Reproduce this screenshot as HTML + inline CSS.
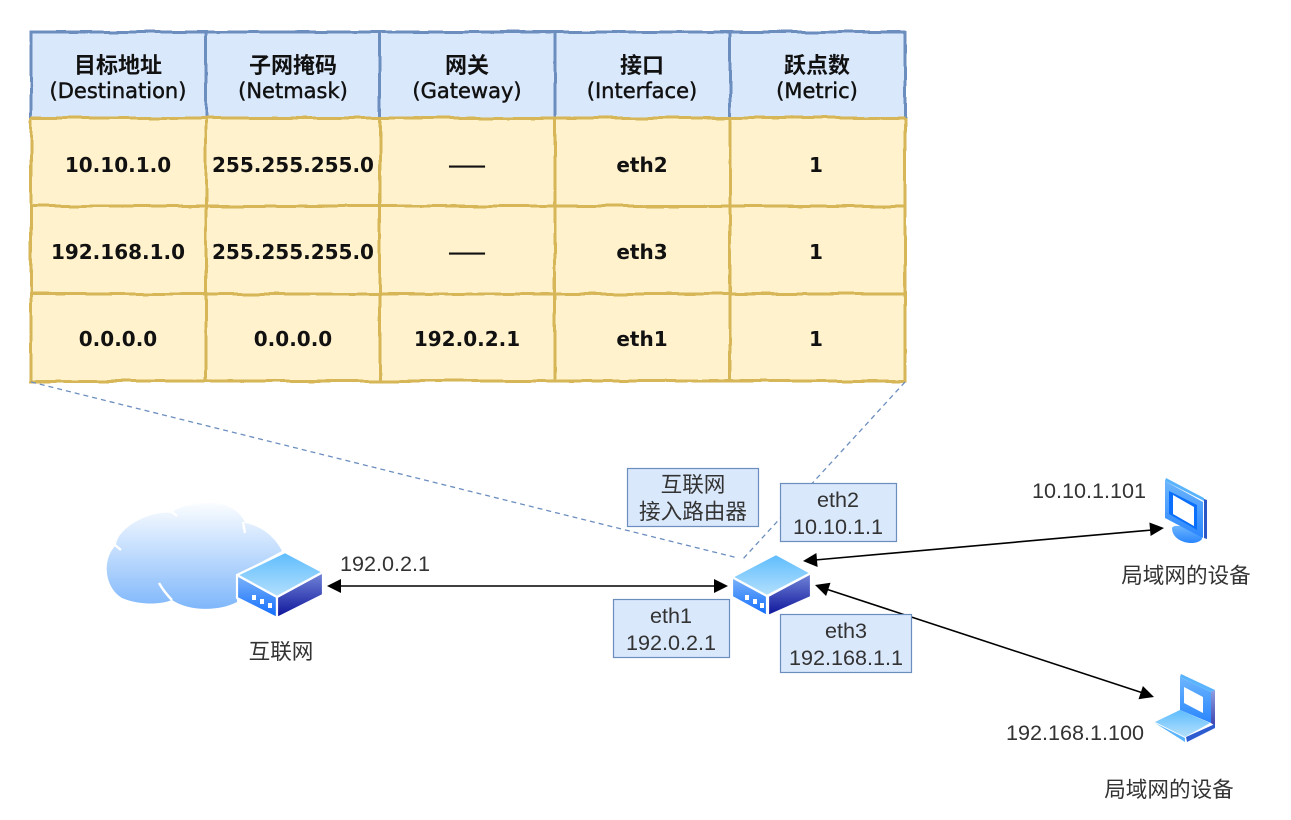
<!DOCTYPE html>
<html><head><meta charset="utf-8"><style>
html,body{margin:0;padding:0;background:#fff}
svg{display:block}
.t{font-family:"DejaVu Sans","Noto Sans CJK SC",sans-serif;font-size:20px;font-weight:bold;text-anchor:middle;fill:#111}
.h{font-family:"DejaVu Sans",sans-serif;font-size:21px;text-anchor:middle;fill:#111;stroke:#111;stroke-width:.45px}
.z{font-family:"Noto Sans CJK SC",sans-serif;font-size:22px;font-weight:700;text-anchor:middle;fill:#111}
.c{font-family:"Noto Sans CJK SC",sans-serif;font-size:22.5px;font-weight:700;text-anchor:middle;fill:#111}
.l{font-family:"Liberation Sans","Noto Sans CJK SC",sans-serif;font-size:21.6px;text-anchor:middle;fill:#333}
.b{fill:#dae8fc;stroke:#6c8ebf;stroke-width:1.2}
</style></head><body>
<svg width="1291" height="820" viewBox="0 0 1291 820" xmlns="http://www.w3.org/2000/svg">
<defs>
<filter id="w" x="0" y="0" width="1291" height="820" filterUnits="userSpaceOnUse" primitiveUnits="userSpaceOnUse"><feTurbulence type="fractalNoise" baseFrequency="0.03" numOctaves="2" seed="4"/><feDisplacementMap in="SourceGraphic" scale="4" xChannelSelector="R" yChannelSelector="G"/></filter>
<linearGradient id="cl" x1="0" y1="0" x2="0" y2="1"><stop offset="0" stop-color="#fbfdff"/><stop offset="1" stop-color="#7fb7fb"/></linearGradient>
<linearGradient id="top" x1="0" y1="0" x2="0" y2="1"><stop offset="0" stop-color="#5dbcfd"/><stop offset="1" stop-color="#b5e0fd"/></linearGradient>
<linearGradient id="fr" x1="0" y1="0" x2="0" y2="1"><stop offset="0" stop-color="#7db4f8"/><stop offset="1" stop-color="#0f6cff"/></linearGradient>
<linearGradient id="si" x1="0" y1="0" x2="0" y2="1"><stop offset="0" stop-color="#7488da"/><stop offset="1" stop-color="#0c1299"/></linearGradient>
<linearGradient id="sc" x1="0" y1="0" x2="0" y2="1"><stop offset="0" stop-color="#6cb5fd"/><stop offset="1" stop-color="#2a86ff"/></linearGradient>
</defs>
<rect width="1291" height="820" fill="#fff"/>

<!-- table fills -->
<rect x="31" y="32" width="874" height="86" fill="#dae8fc"/>
<rect x="31" y="118" width="874" height="263" fill="#fff2cc"/>
<!-- table lines -->
<g filter="url(#w)" fill="none" stroke-width="3">
<path stroke="#d6b656" d="M31 118V381H905V118M31 206H905M31 294H905M206 118V381M380 118V381M555 118V381M730 118V381"/>
<path stroke="#6c8ebf" d="M31 118V32H905V118M206 32V118M380 32V118M555 32V118M730 32V118"/>
<path stroke="#d6b656" d="M31 118H905"/>
</g>

<text class="z" x="118" y="73">目标地址</text><text class="h" x="118" y="98">(Destination)</text>
<text class="z" x="293" y="73">子网掩码</text><text class="h" x="293" y="98">(Netmask)</text>
<text class="z" x="467" y="73">网关</text><text class="h" x="467" y="98">(Gateway)</text>
<text class="z" x="642" y="73">接口</text><text class="h" x="642" y="98">(Interface)</text>
<text class="z" x="817" y="73">跃点数</text><text class="h" x="817" y="98">(Metric)</text>

<text class="t" x="118" y="172">10.10.1.0</text><text class="t" x="293" y="172">255.255.255.0</text><text class="c" x="467" y="173">——</text><text class="t" x="642" y="172">eth2</text><text class="t" x="816" y="172">1</text>
<text class="t" x="118" y="259">192.168.1.0</text><text class="t" x="293" y="259">255.255.255.0</text><text class="c" x="467" y="260">——</text><text class="t" x="642" y="259">eth3</text><text class="t" x="816" y="259">1</text>
<text class="t" x="118" y="346">0.0.0.0</text><text class="t" x="293" y="346">0.0.0.0</text><text class="t" x="467" y="346">192.0.2.1</text><text class="t" x="642" y="346">eth1</text><text class="t" x="816" y="346">1</text>

<!-- dashed -->
<g fill="none" stroke="#6c8ebf" stroke-width="1.3" stroke-dasharray="5 4">
<path d="M31 382L738 558"/>
<path d="M905 382L742 560"/>
</g>

<!-- cloud -->
<path fill="url(#cl)" d="M116 545C117 528 150 510 172 513C177 506 205 500 222 504C235 508 243 516 245 523C262 526 275 537 282 551L237 575V602C220 611 190 612 172 600C160 605 138 605 122 598C105 588 101 560 116 545Z"/>
<path fill="none" stroke="#fff" stroke-width="2.4" d="M172 512L177 516M243 522L245 533M115 545L121 550M159 583C163 590 167 595 172 600"/>

<!-- router 1 -->
<g stroke="#fff" stroke-width="2.2" stroke-linejoin="round">
<path fill="url(#fr)" d="M237 575L277 597V618L237 598Z"/>
<path fill="url(#si)" d="M323 572V595L277 618V597Z"/>
<path fill="url(#top)" d="M285 552L323 572L277 597L237 575Z"/>
</g>
<g fill="#fff"><rect x="252" y="595" width="4" height="5"/><rect x="260" y="599" width="4" height="5"/><rect x="268" y="603" width="4" height="5"/></g>
<!-- router 2 -->
<g stroke="#fff" stroke-width="2.2" stroke-linejoin="round">
<path fill="url(#fr)" d="M732 577L767 596V616L732 597Z"/>
<path fill="url(#si)" d="M811 573V597L768 616V596Z"/>
<path fill="url(#top)" d="M776 554L811 573L767 596L732 577Z"/>
</g>
<g fill="#fff"><rect x="745" y="595" width="4" height="5"/><rect x="753" y="599" width="4" height="5"/><rect x="760" y="603" width="4" height="5"/></g>

<!-- connectors -->
<g stroke="#000" stroke-width="1.6" fill="none">
<path d="M338 586H718"/>
<path d="M815 560L1152 530"/>
<path d="M826 589L1143 693"/>
</g>
<g fill="#000">
<path d="M327 586L341 579V593Z"/>
<path d="M728 586L714 579V593Z"/>
<path d="M803 561L816.4 553L817.6 567Z"/>
<path d="M1164 528L1149.4 522.5L1150.6 536Z"/>
<path d="M815 585L830.5 582.8L826.1 596Z"/>
<path d="M1154 697L1142.9 686L1138.5 699.2Z"/>
</g>

<!-- label boxes -->
<rect class="b" x="627.5" y="468.5" width="131" height="58"/>
<text class="l" x="693" y="492">互联网</text><text class="l" x="693" y="519">接入路由器</text>
<rect class="b" x="780.5" y="483.5" width="116" height="58"/>
<text class="l" x="838" y="507">eth2</text><text class="l" x="838" y="534">10.10.1.1</text>
<rect class="b" x="613.5" y="599.5" width="116" height="58"/>
<text class="l" x="671" y="623">eth1</text><text class="l" x="671" y="650">192.0.2.1</text>
<rect class="b" x="780.5" y="614.5" width="131" height="58"/>
<text class="l" x="846" y="638">eth3</text><text class="l" x="846" y="665">192.168.1.1</text>

<!-- monitor -->
<path fill="#2b56c8" d="M1204 499L1207 500V539L1204 538Z"/>
<path fill="url(#sc)" d="M1172 528C1174 522 1202 530 1202 539C1196 547 1172 543 1172 528Z"/>
<path fill="#59b4fd" d="M1166 478L1204 498V501L1165 481Z"/>
<path fill="url(#sc)" d="M1165 481L1203 502V538L1165 518Z"/>
<path fill="#0a6ffc" d="M1169 491L1197 505V530L1169 514Z"/>
<path fill="#fff" d="M1173 495L1194 507V526L1173 514Z"/>

<!-- laptop -->
<path fill="url(#sc)" d="M1180 677L1211 692V723L1180 710Z"/>
<path fill="#59b4fd" d="M1181 674L1215 690L1211 692L1180 677Z"/>
<path fill="url(#si)" d="M1211 692L1215 690V726L1211 723Z" opacity=".8"/>
<path fill="#fff" d="M1184 687L1203 697V713L1184 703Z"/>
<path fill="url(#top)" d="M1180 710L1210 723L1185 737L1155 722Z"/>
<path fill="#2d5bd0" d="M1186 737L1215 724V728L1187 742Z"/>
<path fill="#5ab4fc" d="M1155 723L1185 738V742Z"/>

<!-- free labels -->
<text class="l" x="385" y="571">192.0.2.1</text>
<text class="l" x="281" y="659">互联网</text>
<text class="l" x="1089" y="498">10.10.1.101</text>
<text class="l" x="1075" y="740">192.168.1.100</text>
<text class="l" x="1186" y="583">局域网的设备</text>
<text class="l" x="1169" y="797">局域网的设备</text>
</svg>
</body></html>
